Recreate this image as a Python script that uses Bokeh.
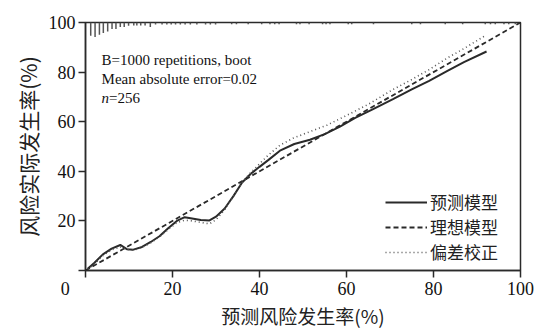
from bokeh.plotting import figure
from bokeh.models import Range1d, Label, Legend, LegendItem, FixedTicker
from bokeh.embed import file_html
from bokeh.resources import INLINE

# ---- data ----
apparent_x = [0.5, 2, 4, 6, 8, 9.5, 11, 13, 15, 17, 19, 21, 22.8, 24.5, 26.5, 28.5, 30, 32, 34, 36, 38, 40,
              42, 44.7, 48, 51.6, 55, 58.5, 62, 66, 70.8, 75, 79, 83.1, 87, 92.2]
apparent_y = [0.7, 3, 6.5, 8.8, 10.3, 8.6, 8.4, 9.5, 11.5, 13.8, 17, 20, 21.5, 21, 20.4, 20.2, 21.7, 25, 30,
              35.5, 39, 41.8, 44.5, 48.3, 51, 52.7, 55, 58, 61.5, 65, 69.2, 73, 76.5, 80.4, 84, 88.3]

corrected_x = [0.5, 2, 4, 6, 8, 9.5, 11, 13, 15, 17, 19, 21, 22.8, 24.5, 26.5, 28.5, 30, 32, 34, 36, 38, 40,
               42, 44.7, 47.8, 51.6, 55.5, 60, 65, 70.8, 75, 79, 83.1, 87, 91.7]
corrected_y = [0.5, 2.5, 6, 8.3, 9.5, 8.5, 8.2, 9.3, 11.2, 13.5, 16.5, 19.3, 20.3, 20, 19.4, 18.8, 20.5, 24.5,
               30, 35.5, 39.5, 43, 46.5, 50.5, 53.4, 56, 58.6, 62.5, 67, 73.1, 77, 81, 85.6, 89.5, 94.5]

ideal_x = [0, 100]
ideal_y = [0, 100]

# rug of predicted values along the top (position, spike length in % units)
rug_x = [1.2, 2.2, 3.2, 4.1, 5.1, 6.1, 7.0, 8.0, 8.9, 9.9, 11.1, 11.8, 12.7, 13.7, 14.9, 16.1, 17.6, 18.7,
         19.7, 20.7, 21.8, 22.9, 24.1, 25.6, 27.6, 28.7, 29.9, 33.6, 34.7, 37.4, 40.5, 42.4, 43.5, 44.5,
         48.5, 49.3, 51.4, 54.5, 55.3, 56.2, 60.4, 61.2, 66.2, 75.0, 77.0, 82.7, 86.7, 91.9, 93.1, 94.2,
         96.2, 97.3, 98.8]
rug_len = [5.3, 5.8, 4.9, 4.2, 3.6, 2.6, 2.6, 1.8, 1.8, 1.3, 1.2, 1.2, 1.2, 1.2, 1.8, 0.8, 0.8, 0.8,
           0.8, 0.8, 0.8, 0.8, 0.8, 0.8, 0.8, 0.8, 0.8, 0.7, 0.7, 0.7, 0.7, 0.7, 0.7, 0.7,
           0.7, 0.7, 0.7, 0.7, 0.7, 0.7, 0.7, 0.7, 0.7, 0.7, 0.7, 0.7, 0.7, 0.7, 0.7, 0.7,
           0.7, 0.7, 0.7]

x_ticks = [0, 20, 40, 60, 80, 100]
y_ticks = [0, 20, 40, 60, 80, 100]

legend_labels = ["预测模型", "理想模型", "偏差校正"]
x_title = "预测风险发生率(%)"
y_title = "风险实际发生率(%)"
note_lines = ["B=1000 repetitions, boot", "Mean absolute error=0.02"]
note_n = "=256"

# ---- figure ----
INK = "#2a2a2a"
SERIF = "Liberation Serif"
CJK = "Noto Sans CJK SC"

p = figure(width=537, height=331, output_backend="svg", toolbar_location=None,
           x_range=Range1d(0, 100), y_range=Range1d(0, 100),
           min_border_left=85, min_border_right=17, min_border_top=22, min_border_bottom=56)
p.grid.visible = False
p.outline_line_color = INK
p.outline_line_width = 1.5
p.background_fill_color = "white"
p.border_fill_color = "white"

for ax in (p.xaxis[0], p.yaxis[0]):
    ax.axis_line_color = INK
    ax.axis_line_width = 1.5
    ax.major_tick_line_color = INK
    ax.major_tick_line_width = 1.5
    ax.major_tick_out = 7
    ax.major_tick_in = 0
    ax.minor_tick_line_color = None
    ax.major_label_text_font = SERIF
    ax.major_label_text_font_size = "18px"
    ax.major_label_text_color = "#111"
    ax.axis_label_text_font = CJK
    ax.axis_label_text_font_style = "normal"
    ax.axis_label_text_color = "#222"

p.xaxis.axis_label_text_font_size = "19px"
p.yaxis.axis_label_text_font_size = "21px"

p.xaxis.ticker = FixedTicker(ticks=x_ticks, minor_ticks=[])
p.yaxis.ticker = FixedTicker(ticks=y_ticks, minor_ticks=[])
# the shared origin "0" sits left of the x-axis origin tick
p.xaxis.major_label_overrides = {0: "0" + "\u00a0" * 9}
p.yaxis.major_label_overrides = {0: ""}
p.xaxis.major_label_standoff = 1
p.yaxis.major_label_standoff = 3
p.xaxis.axis_label = x_title
p.yaxis.axis_label = y_title
p.xaxis.axis_label_standoff = 0
p.yaxis.axis_label_standoff = 3

# rug
p.segment(x0=rug_x, y0=[100] * len(rug_x), x1=rug_x, y1=[100 - l for l in rug_len],
          line_color="#555555", line_width=1.5)

r_app = p.line(apparent_x, apparent_y, line_color=INK, line_width=2)
r_ideal = p.line(ideal_x, ideal_y, line_color=INK, line_width=1.8, line_dash="5 3")
r_corr = p.line(corrected_x, corrected_y, line_color="#555555", line_width=1.6, line_dash="1 3")

legend = Legend(items=[LegendItem(label=legend_labels[0], renderers=[r_app]),
                       LegendItem(label=legend_labels[1], renderers=[r_ideal]),
                       LegendItem(label=legend_labels[2], renderers=[r_corr])],
                location=(300, 6), padding=0, margin=0, spacing=0,
                glyph_width=42, glyph_height=20, label_height=20, label_standoff=3,
                border_line_color=None, background_fill_alpha=0,
                label_text_font=CJK, label_text_font_size="17px", label_text_color="#222")
p.add_layout(legend, "center")

# annotation text
for i, t in enumerate(note_lines):
    p.add_layout(Label(x=3.7, y=85.0, y_offset=-19 * i, text=t, text_font=SERIF, text_font_size="15px",
                       text_color="#111", text_baseline="alphabetic"))
p.add_layout(Label(x=3.7, y=85.0, y_offset=-38, text="n", text_font=SERIF, text_font_size="15px",
                   text_font_style="italic", text_color="#111", text_baseline="alphabetic"))
p.add_layout(Label(x=3.7, y=85.0, x_offset=7.5, y_offset=-38, text=note_n, text_font=SERIF,
                   text_font_size="15px", text_color="#111", text_baseline="alphabetic"))

open("out.html", "w").write(file_html(p, INLINE))
